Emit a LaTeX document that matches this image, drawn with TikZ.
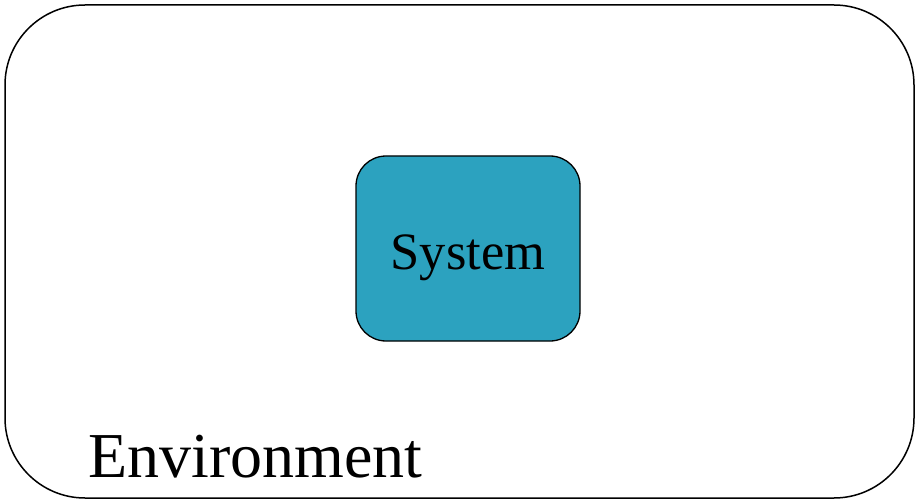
\documentclass[tikz,border=0pt]{standalone}
\usepackage{fontspec}
\setmainfont{Liberation Serif}
\definecolor{sysblue}{HTML}{2CA2BF}
\begin{document}
\begin{tikzpicture}[x=1pt,y=-1pt,
  envbox/.style={draw=black,line width=1.5pt,rounded corners=80pt},
  sysbox/.style={draw=black,line width=1.3pt,fill=sysblue,rounded corners=30pt}]
\useasboundingbox (0,0) rectangle (916,500);
\draw[envbox] (5,5) rectangle (914,498);
\node[sysbox,minimum width=224pt,minimum height=185pt,inner sep=0pt] (sys) at (468,248.5) {};
\node[anchor=base,inner sep=0pt,font=\fontsize{52.5}{60}\selectfont] (systxt) at (468,269) {System};
\node[anchor=base west,inner sep=0pt,font=\fontsize{64}{72}\selectfont] (env) at (88,477) {Environment};
\end{tikzpicture}
\end{document}
